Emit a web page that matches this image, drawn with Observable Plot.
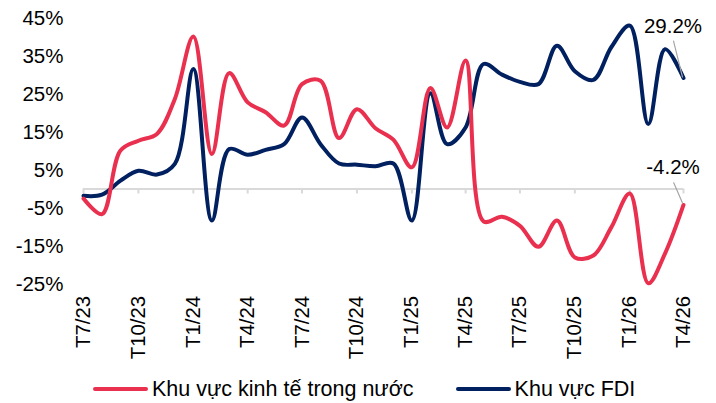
<!DOCTYPE html>
<html>
<head>
<meta charset="utf-8">
<script src="https://cdn.jsdelivr.net/npm/d3@7"></script>
<script src="https://cdn.jsdelivr.net/npm/@observablehq/plot@0.6"></script>
<style>
  html, body { margin: 0; padding: 0; background: #fff; }
  body { width: 716px; height: 403px; overflow: hidden; font-family: "Liberation Sans", Arial, sans-serif; }
  .legend { height: 38px; margin-top: 5px; display: flex; align-items: center; padding-left: 93px; font-size: 21.5px; color: #000; }
  .legend .item { display: flex; align-items: center; margin-right: 42px; }
  .legend .sw { width: 55px; height: 4px; border-radius: 2px; margin-right: 4px; }
</style>
</head>
<body>
<div id="chart"></div>
<script>
const months = ["T7/23","T8/23","T9/23","T10/23","T11/23","T12/23",
  "T1/24","T2/24","T3/24","T4/24","T5/24","T6/24","T7/24","T8/24","T9/24","T10/24","T11/24","T12/24",
  "T1/25","T2/25","T3/25","T4/25","T5/25","T6/25","T7/25","T8/25","T9/25","T10/25","T11/25","T12/25",
  "T1/26","T2/26","T3/26","T4/26"];
const seriesNames = ["Khu vực kinh tế trong nước", "Khu vực FDI"];
const domestic = [-2.5, -6.6, 10.1, 12.7, 14.5, 23.7, 40.1, 9.2, 30.5, 22.8, 20.2, 16.7, 27.6, 28.5, 13.4, 21.0, 16.0, 13.0,
  5.7, 26.6, 16.2, 33.8, -8.5, -7.3, -9.7, -15.2, -8.3, -18.0, -17.5, -10.1, -1.2, -24.8, -17.0, -4.2];
const fdi = [-1.8, -1.5, 2.2, 4.8, 3.8, 6.6, 31.6, -8.3, 10.5, 9.0, 10.3, 11.8, 18.8, 11.8, 6.7, 6.4, 6.0, 6.7,
  -8.3, 25.2, 11.8, 16.2, 32.9, 30.1, 28.2, 27.6, 37.7, 31.0, 28.7, 37.3, 43.0, 17.1, 36.8, 29.2];
const xTickLabels = ["T7/23","T10/23","T1/24","T4/24","T7/24","T10/24","T1/25","T4/25","T7/25","T10/25","T1/26","T4/26"];
const yTicks = [-25, -15, -5, 5, 15, 25, 35, 45];
const colors = ["#E9304F", "#002060"];

const parseMonth = (s) => { const [m, y] = s.slice(1).split("/"); return new Date(Date.UTC(2000 + +y, +m - 1, 1)); };
const label = new Map(months.map(m => [+parseMonth(m), m]));
const rows = [];
months.forEach((m, i) => {
  rows.push({date: parseMonth(m), value: domestic[i], series: seriesNames[0]});
  rows.push({date: parseMonth(m), value: fdi[i], series: seriesNames[1]});
});
const lastDom = rows.filter(d => d.series === seriesNames[0]).slice(-1);
const lastFdi = rows.filter(d => d.series === seriesNames[1]).slice(-1);
const tickDates = xTickLabels.map(parseMonth);
const font = "'Liberation Sans', Arial, sans-serif";

const chart = Plot.plot({
  width: 716,
  height: 365,
  marginTop: 17.5,
  marginBottom: 81.5,
  marginLeft: 83,
  marginRight: 33,
  style: {fontFamily: font, fontSize: "20.5px", color: "#000", background: "#fff"},
  x: {type: "utc", domain: [parseMonth(months[0]), parseMonth(months[months.length - 1])]},
  y: {domain: [-25, 45]},
  color: {domain: seriesNames, range: colors},
  marks: [
    Plot.axisY({ticks: yTicks, tickFormat: d => d + "%", tickSize: 0, tickPadding: 20, label: null, fontSize: 20.5}),
    Plot.axisX({ticks: tickDates, tickFormat: d => label.get(+d), tickRotate: -90, tickSize: 0, tickPadding: 12, label: null, fontSize: 20.3}),
    Plot.ruleY([0], {stroke: "#d9d9d9", strokeWidth: 2}),
    Plot.ruleX(tickDates, {x: d => d, y1: d => 0, y2: d => 0, insetBottom: -5, stroke: "#d9d9d9", strokeWidth: 2}),
    Plot.line(rows.filter(d => d.series === seriesNames[1]), {x: "date", y: "value", stroke: "series", curve: "catmull-rom", strokeWidth: 4}),
    Plot.line(rows.filter(d => d.series === seriesNames[0]), {x: "date", y: "value", stroke: "series", curve: "catmull-rom", strokeWidth: 4}),
    Plot.vector(lastFdi, {x: "date", y: "value", length: 37, rotate: -14, anchor: "start", r: 0, dx: -1, dy: -1, stroke: "#a6a6a6", strokeWidth: 1.2}),
    Plot.vector(lastDom, {x: "date", y: "value", length: 22, rotate: -23.5, anchor: "start", r: 0, dx: -1, dy: -2, stroke: "#a6a6a6", strokeWidth: 1.2}),
    Plot.text(lastFdi, {x: "date", y: "value", text: d => d.value.toFixed(1) + "%", dx: -10.5, dy: -52, fill: "#000", fontSize: 20.5}),
    Plot.text(lastDom, {x: "date", y: "value", text: d => d.value.toFixed(1) + "%", dx: -10.5, dy: -38, fill: "#000", fontSize: 20.5})
  ]
});
document.getElementById("chart").appendChild(chart);

const legend = document.createElement("div");
legend.className = "legend";
seriesNames.forEach((name, i) => {
  const item = document.createElement("div");
  item.className = "item";
  const sw = document.createElement("span");
  sw.className = "sw";
  sw.style.background = colors[i];
  const tx = document.createElement("span");
  tx.textContent = name;
  item.appendChild(sw);
  item.appendChild(tx);
  legend.appendChild(item);
});
document.getElementById("chart").appendChild(legend);
</script>
</body>
</html>
